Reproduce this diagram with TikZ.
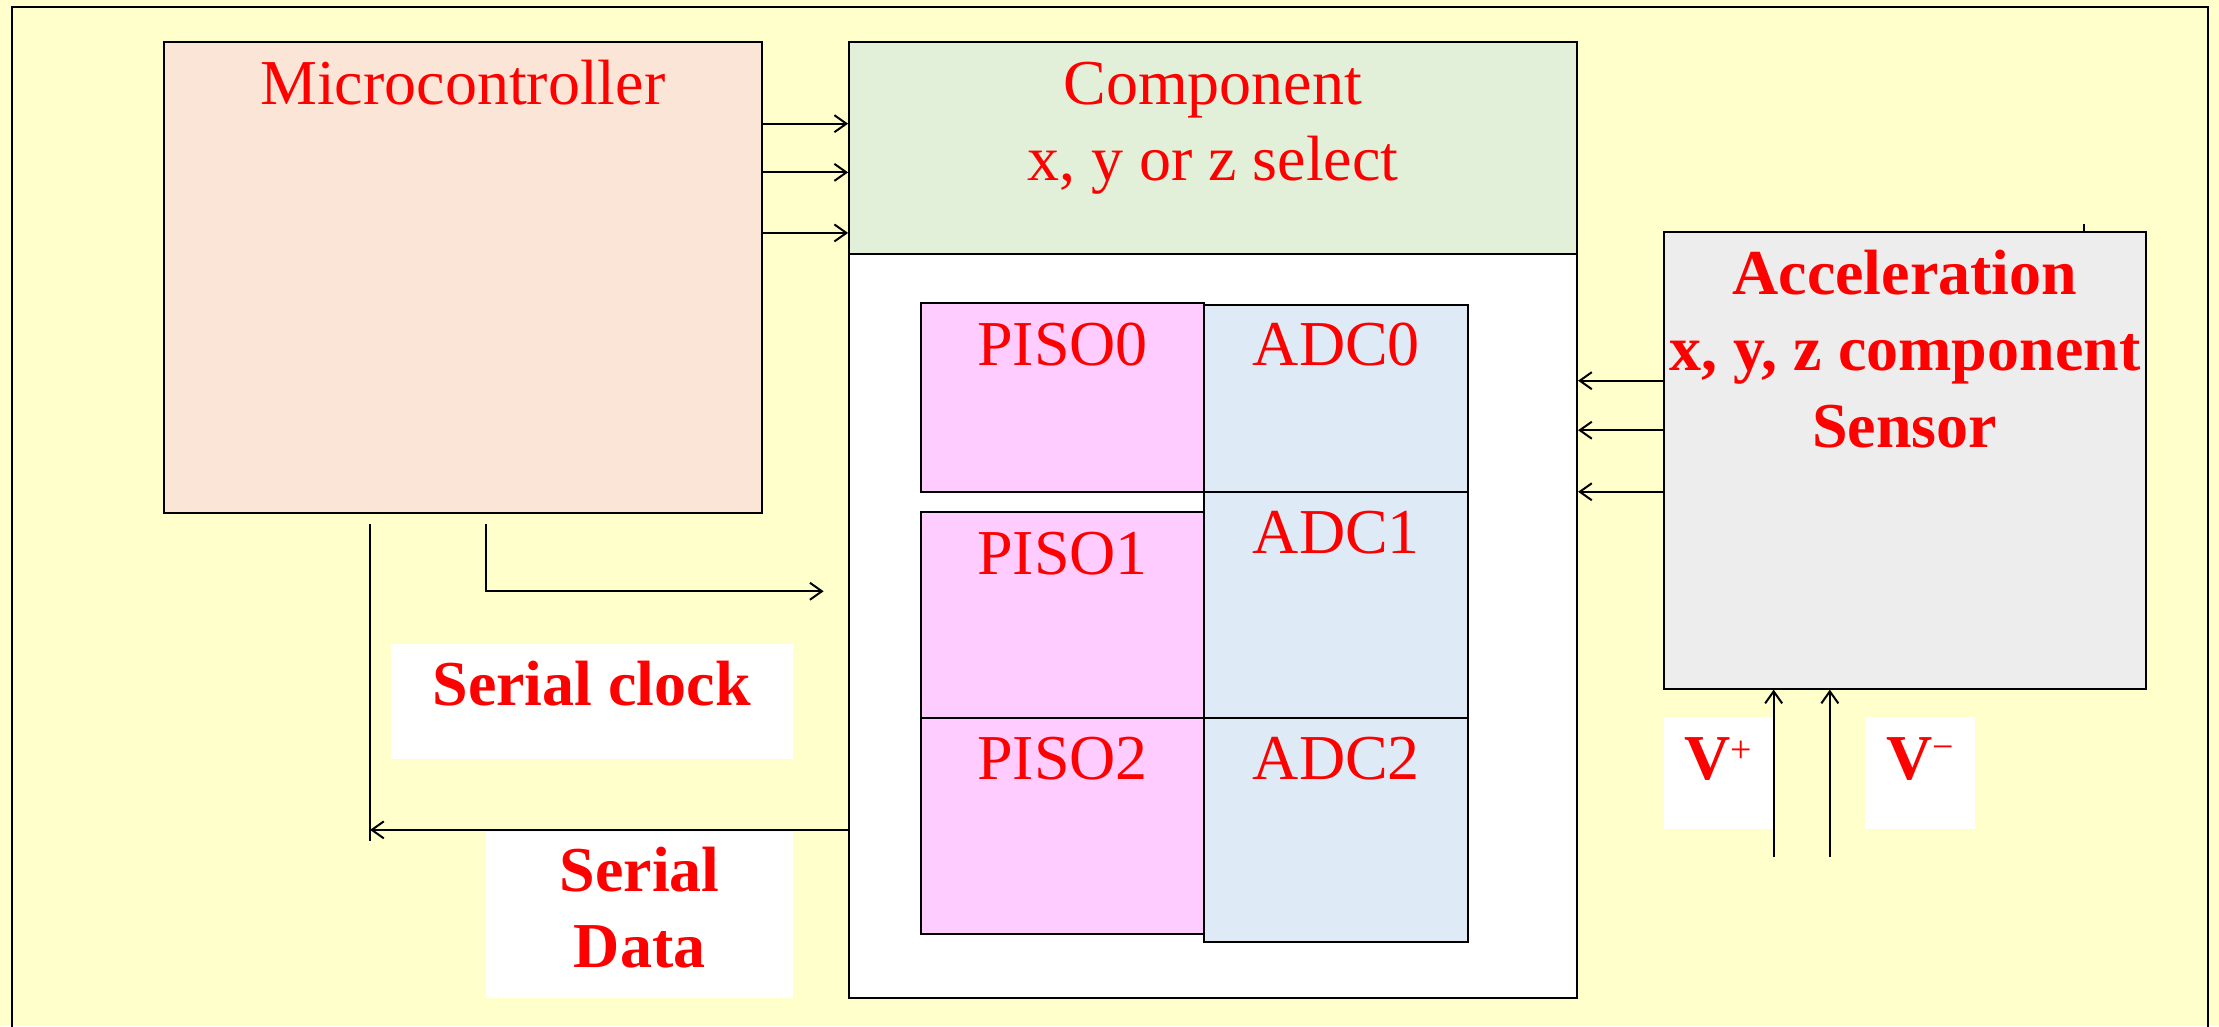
\documentclass[tikz,border=0pt]{standalone}
\usepackage{fontspec}
\setmainfont{Liberation Serif}
\usetikzlibrary{arrows.meta,fit}
\definecolor{bgyellow}{HTML}{FFFFCC}
\definecolor{microfill}{HTML}{FBE5D6}
\definecolor{compgreen}{HTML}{E2F0D9}
\definecolor{pisopink}{HTML}{FFCCFF}
\definecolor{adcblue}{HTML}{DEEBF7}
\definecolor{sensgrey}{HTML}{EDEDED}
\definecolor{txtred}{HTML}{FF0000}
\newcommand{\supsign}[2]{\raisebox{#2}{\fontsize{38}{38}\selectfont\mdseries #1}}
\begin{document}
\begin{tikzpicture}[x=1.4152pt,y=-1.4152pt,
 blk/.style={draw=black,line width=2pt,inner sep=0pt,rectangle},
 wbox/.style={fill=white,draw=none,inner sep=0pt,rectangle},
 lbl/.style={text=txtred,font=\fontsize{64}{75}\selectfont,inner sep=0pt,anchor=base},
 blbl/.style={text=txtred,font=\fontsize{64}{75}\selectfont\bfseries,inner sep=0pt,anchor=base},
 arr/.style={draw=black,line width=2pt,-{Straight Barb[length=12pt,width=17pt,line width=2pt]}},
 wire/.style={draw=black,line width=2pt}]
\clip (0,0) rectangle (1568,725);
\fill[bgyellow] (0,0) rectangle (1568,725);
% outer frame
\draw[wire] (8.5,760) -- (8.5,5) -- (1560,5) -- (1560,760);
% blocks
\node[blk,fill=microfill,fit={(116,29.5) (538.4,362.3)}] (micro) {};
\node[blk,fill=white,fit={(600,29.5) (1114.4,705.2)}] (comp) {};
\node[blk,fill=compgreen,fit={(600,29.5) (1114.4,179.5)}] (compsel) {};
\node[blk,fill=pisopink,fit={(650.5,213.9) (851,347.7)}] (piso0) {};
\node[blk,fill=pisopink,fit={(650.5,362) (851,507)}] (piso1) {};
\node[blk,fill=pisopink,fit={(650.5,507) (851,659.8)}] (piso2) {};
\node[blk,fill=adcblue,fit={(851,215.3) (1037.5,347.7)}] (adc0) {};
\node[blk,fill=adcblue,fit={(851,347.7) (1037.5,507)}] (adc1) {};
\node[blk,fill=adcblue,fit={(851,507) (1037.5,665.7)}] (adc2) {};
\node[blk,fill=sensgrey,fit={(1175.6,163.7) (1516.7,486.6)}] (sensor) {};
\draw[wire] (sensor.north -| 1472.4,0) -- ++(0,-4.7);
% white label boxes
\node[wbox,fit={(276.3,455.3) (560,536.6)}] (clockbox) {};
\node[wbox,fit={(343.4,588) (560,705.2)}] (databox) {};
\node[wbox,fit={(1175.8,506.9) (1252.5,586)}] (vpbox) {};
\node[wbox,fit={(1318,506.9) (1395.6,586)}] (vmbox) {};
% texts
\node[lbl] (tmicro) at (327,73.5) {Microcontroller};
\node[lbl] (tcomp) at (857,73.5) {Component};
\node[lbl] (tsel) at (857,127.7) {x, y or z select};
\node[lbl] (tpiso0) at (750.8,258.5) {PISO0};
\node[lbl] (tadc0) at (944.3,258.5) {ADC0};
\node[lbl] (tpiso1) at (750.8,405.7) {PISO1};
\node[lbl] (tadc1) at (944.3,391.4) {ADC1};
\node[lbl] (tpiso2) at (750.8,551) {PISO2};
\node[lbl] (tadc2) at (944.3,551) {ADC2};
\node[blbl] (tacc) at (1346,208) {Acceleration};
\node[blbl] (txyz) at (1346,262) {x, y, z component};
\node[blbl] (tsens) at (1346,316) {Sensor};
\node[blbl] (tclock) at (418,498.4) {Serial clock};
\node[blbl] (tserial) at (452,630.3) {Serial};
\node[blbl] (tdata) at (452,684) {Data};
\node[blbl] (tvp) at (1214.2,551) {V\supsign{+}{17pt}};
\node[blbl] (tvm) at (1356.8,551) {V\supsign{−}{20pt}};
% connectors micro -> component
\draw[arr] (micro.east |- 0,87.4) -- (comp.west |- 0,87.4);
\draw[arr] (micro.east |- 0,121.8) -- (comp.west |- 0,121.8);
\draw[arr] (micro.east |- 0,164.6) -- (comp.west |- 0,164.6);
% sensor -> component
\draw[arr] (sensor.west |- 0,269) -- (comp.east |- 0,269);
\draw[arr] (sensor.west |- 0,304) -- (comp.east |- 0,304);
\draw[arr] (sensor.west |- 0,347.5) -- (comp.east |- 0,347.5);
% serial clock
\coordinate (sclk0) at (343.7,370.4);
\coordinate (sclk1) at (582,417.8);
\draw[arr] (sclk0) |- (sclk1);
% serial data
\coordinate (sdtop) at (261.5,370.4);
\coordinate (sdbot) at (261.5,594);
\draw[wire] (sdtop) -- (sdbot);
\draw[arr] (comp.west |- 0,586.4) -- (sdtop |- 0,586.4);
% supply arrows
\coordinate (vp0) at (1253.3,605.8);
\coordinate (vm0) at (1293,605.8);
\draw[arr] (vp0) -- (vp0 |- sensor.south);
\draw[arr] (vm0) -- (vm0 |- sensor.south);
\end{tikzpicture}
\end{document}
